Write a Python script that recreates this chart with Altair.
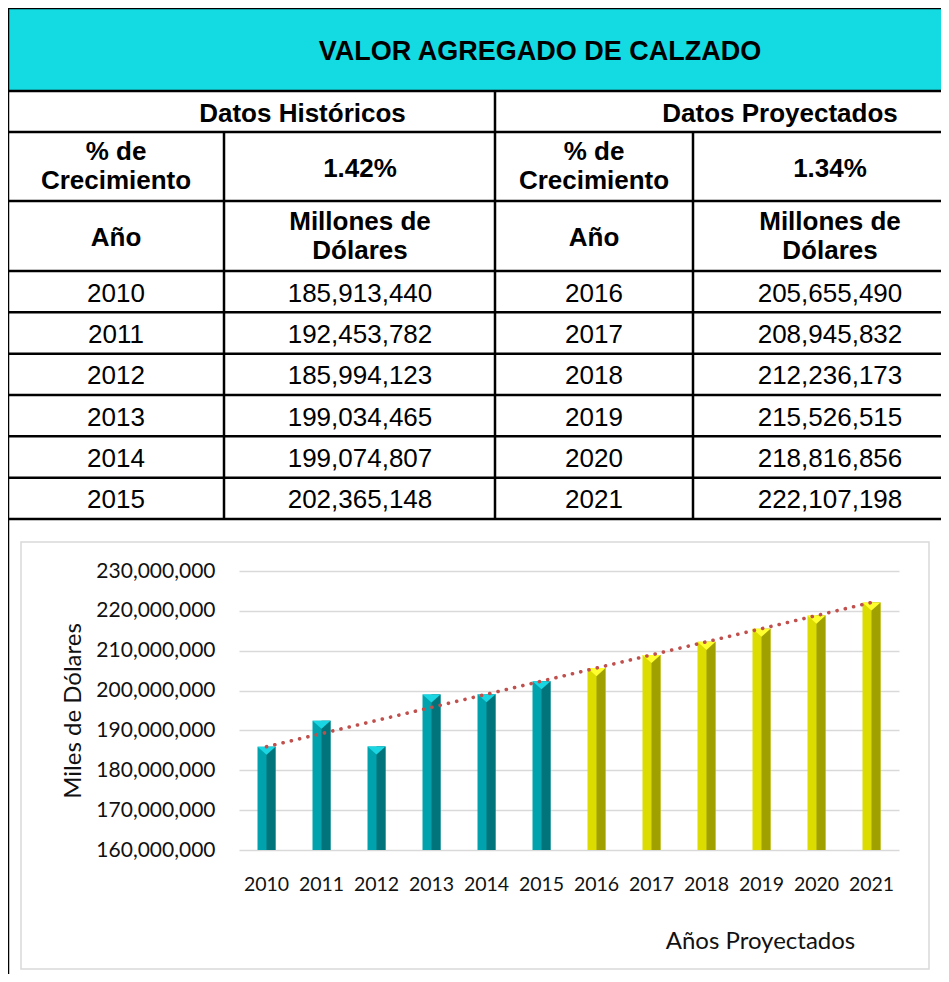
import altair as alt
import pandas as pd

# ---------------- data ----------------
TITLE = "VALOR AGREGADO DE CALZADO"
SECTION_LABELS = ["Datos Históricos", "Datos Proyectados"]
GROWTH_LABEL = ["% de", "Crecimiento"]
GROWTH_RATES = ["1.42%", "1.34%"]
YEAR_HEADER = "Año"
VALUE_HEADER = ["Millones de", "Dólares"]
YEARS_HIST = [2010, 2011, 2012, 2013, 2014, 2015]
VALUES_HIST = [185913440, 192453782, 185994123, 199034465, 199074807, 202365148]
YEARS_PROJ = [2016, 2017, 2018, 2019, 2020, 2021]
VALUES_PROJ = [205655490, 208945832, 212236173, 215526515, 218816856, 222107198]
Y_TICKS = [160000000, 170000000, 180000000, 190000000, 200000000,
           210000000, 220000000, 230000000]
Y_TITLE = "Miles de Dólares"
X_TITLE = "Años Proyectados"

# ---------------- layout (pixels inside the view) ----------------
W, H = 933, 966
COL_EDGES = [0, 216, 487, 685]
COL_CENTERS = [108, 352, 586, 822]
HEADER_EDGES = [0, 83, 124, 193, 263]
ROW_H = (511 - 263) / 6
ROW_EDGES = HEADER_EDGES + [263 + ROW_H * (i + 1) for i in range(len(YEARS_HIST))]
TITLE_X = 532
SECTION_X = [294.5, 772]
PLOT_X = [231, 891]
PLOT_Y = [842, 563]
BOX = {"x": 13, "x2": 921, "y": 534, "y2": 961}
GAP = 14.5

FONT_T = "Liberation Sans"
FONT_C = "Lato"

TEAL_FACE, TEAL_DARK, TEAL_TOP = "#00A3AD", "#00747A", "#1AD6E2"
YEL_FACE, YEL_DARK, YEL_TOP = "#DCDC00", "#A0A000", "#FFFF30"
CYAN = "#13DBE1"
TREND = "#C0504D"


def mid(r):
    return (ROW_EDGES[r] + ROW_EDGES[r + 1]) / 2


# ---------------- table texts ----------------
title_rows = [{"x": TITLE_X, "y": mid(0) + 2, "t": TITLE}]
bold = [
    {"x": SECTION_X[0], "y": mid(1) + 2, "t": SECTION_LABELS[0]},
    {"x": SECTION_X[1], "y": mid(1) + 2, "t": SECTION_LABELS[1]},
]
for side in range(2):
    c0, c1 = COL_CENTERS[2 * side], COL_CENTERS[2 * side + 1]
    bold.append({"x": c0, "y": mid(2) - GAP, "t": GROWTH_LABEL[0]})
    bold.append({"x": c0, "y": mid(2) + GAP, "t": GROWTH_LABEL[1]})
    bold.append({"x": c1, "y": mid(2) + 2, "t": GROWTH_RATES[side]})
    bold.append({"x": c0, "y": mid(3) + 2, "t": YEAR_HEADER})
    bold.append({"x": c1, "y": mid(3) - GAP, "t": VALUE_HEADER[0]})
    bold.append({"x": c1, "y": mid(3) + GAP, "t": VALUE_HEADER[1]})

regular = []
for i in range(len(YEARS_HIST)):
    y = mid(4 + i) + 2
    regular.append({"x": COL_CENTERS[0], "y": y, "t": str(YEARS_HIST[i])})
    regular.append({"x": COL_CENTERS[1], "y": y, "t": f"{VALUES_HIST[i]:,}"})
    regular.append({"x": COL_CENTERS[2], "y": y, "t": str(YEARS_PROJ[i])})
    regular.append({"x": COL_CENTERS[3], "y": y, "t": f"{VALUES_PROJ[i]:,}"})

bottom = ROW_EDGES[-1]
hlines = [{"x": 0, "x2": W, "y": e, "y2": e} for e in ROW_EDGES]
vlines = [
    {"x": 0, "x2": 0, "y": 0, "y2": H},
    {"x": COL_EDGES[1], "x2": COL_EDGES[1], "y": ROW_EDGES[2], "y2": bottom},
    {"x": COL_EDGES[2], "x2": COL_EDGES[2], "y": ROW_EDGES[1], "y2": bottom},
    {"x": COL_EDGES[3], "x2": COL_EDGES[3], "y": ROW_EDGES[2], "y2": bottom},
]

tx = alt.Scale(domain=[0, W], range=[0, W], nice=False, zero=False)
ty = alt.Scale(domain=[0, H], range=[0, H], nice=False, zero=False)
X = alt.X("x:Q", scale=tx, axis=None)
Y = alt.Y("y:Q", scale=ty, axis=None)

header = alt.Chart(pd.DataFrame([{"x": 0, "x2": W, "y": 0, "y2": ROW_EDGES[1]}])).mark_rect(
    color=CYAN).encode(x=X, x2="x2:Q", y=Y, y2="y2:Q")
box = alt.Chart(pd.DataFrame([BOX])).mark_rect(
    fillOpacity=0, stroke="#D9D9D9", strokeWidth=1.5).encode(x=X, x2="x2:Q", y=Y, y2="y2:Q")
rules = alt.Chart(pd.DataFrame(hlines + vlines)).mark_rule(
    color="black", strokeWidth=2.5).encode(x=X, x2="x2:Q", y=Y, y2="y2:Q")
ttitle = alt.Chart(pd.DataFrame(title_rows)).mark_text(
    font=FONT_T, fontSize=27, fontWeight="bold", color="black", baseline="middle", align="center"
).encode(x=X, y=Y, text="t:N")
tbold = alt.Chart(pd.DataFrame(bold)).mark_text(
    font=FONT_T, fontSize=26, fontWeight="bold", color="black", baseline="middle", align="center"
).encode(x=X, y=Y, text="t:N")
treg = alt.Chart(pd.DataFrame(regular)).mark_text(
    font=FONT_T, fontSize=26, color="black", baseline="middle", align="center"
).encode(x=X, y=Y, text="t:N")

table = alt.layer(header, box, rules, ttitle, tbold, treg)

# ---------------- bar chart ----------------
years = YEARS_HIST + YEARS_PROJ
bars_df = pd.DataFrame({"yr": years, "val": VALUES_HIST + VALUES_PROJ})
hist = alt.datum.yr <= YEARS_HIST[-1]

x_enc = alt.X(
    "yr:O",
    scale=alt.Scale(domain=years, range=PLOT_X, paddingInner=0, paddingOuter=0),
    axis=alt.Axis(
        orient="bottom", offset=PLOT_Y[0] - H, labelAngle=0, labelFont=FONT_C,
        labelFontSize=19.5, labelColor="#111111", labelPadding=25, ticks=False, tickSize=0,
        domain=False, grid=False, title=X_TITLE, titleFont=FONT_C, titleFontSize=24,
        titleFontWeight="normal", titleColor="#111111", titleX=752, titleY=91,
        titleAlign="center", titleBaseline="middle",
    ),
)
y_enc = alt.Y(
    "val:Q",
    scale=alt.Scale(domain=[Y_TICKS[0], Y_TICKS[-1]], range=PLOT_Y, zero=False, nice=False),
    axis=alt.Axis(
        orient="left", offset=-PLOT_X[0], values=Y_TICKS, format=",.0f", labelFont=FONT_C,
        labelFontSize=21, labelColor="#111111", labelPadding=24, ticks=False, tickSize=0,
        domain=False, grid=True, gridColor="#D9D9D9", gridWidth=1.6, title=Y_TITLE,
        titleFont=FONT_C, titleFontSize=24, titleFontWeight="normal", titleColor="#111111",
        titleX=-159, titleBaseline="alphabetic",
    ),
)

base = alt.Chart(bars_df)
face = base.mark_bar(size=18).encode(
    x=x_enc, y=y_enc, y2=alt.datum(Y_TICKS[0]),
    color=alt.condition(hist, alt.value(TEAL_FACE), alt.value(YEL_FACE)))
dark = base.mark_bar(size=9, xOffset=4.5).encode(
    x=x_enc, y=y_enc, y2=alt.datum(Y_TICKS[0]),
    color=alt.condition(hist, alt.value(TEAL_DARK), alt.value(YEL_DARK)))
top = base.mark_point(shape="M -1 0 L 1 0 L 0 0.9 Z", size=324, filled=True, opacity=1,
                      strokeWidth=0).encode(
    x=x_enc, y=y_enc,
    color=alt.condition(hist, alt.value(TEAL_TOP), alt.value(YEL_TOP)))
trend = base.transform_regression("yr", "val").mark_line(
    color=TREND, strokeWidth=3.6, strokeDash=[0.1, 8.4], strokeCap="round"
).encode(x=x_enc, y=y_enc)

bars = alt.layer(face, dark, top, trend)

chart = alt.layer(table, bars).resolve_scale(x="independent", y="independent").properties(
    width=W, height=H, padding=0, autosize=alt.AutoSizeParams(type="none")
).configure_view(stroke=None)

chart.save("out.html", embed_options={"renderer": "svg", "actions": False})
